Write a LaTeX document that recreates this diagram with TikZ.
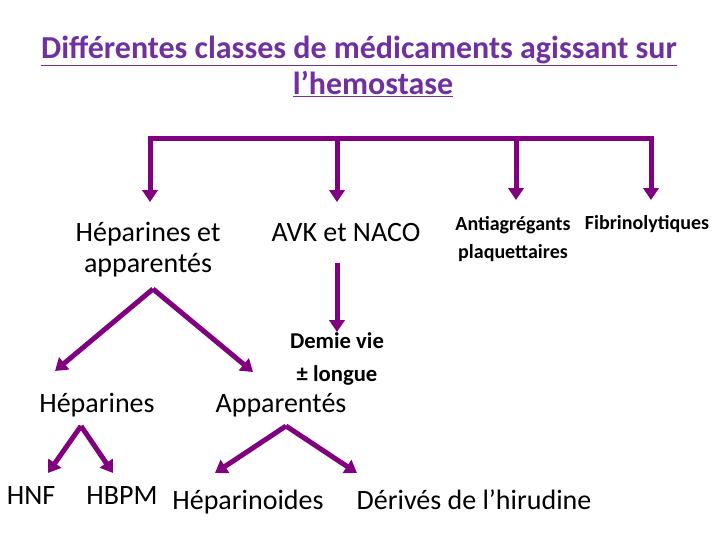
\documentclass[tikz,border=0pt]{standalone}
\usepackage{fontspec}
\setmainfont{Carlito}
\usetikzlibrary{arrows.meta}
\definecolor{titlepurple}{HTML}{7030A0}
\definecolor{arrpurple}{HTML}{800080}
\tikzset{
  lbl/.style={anchor=base, inner sep=0pt, font=\fontsize{21pt}{25pt}\selectfont},
  lblb/.style={anchor=base, inner sep=0pt, font=\fontsize{15pt}{18pt}\selectfont\bfseries},
  lblm/.style={anchor=base, inner sep=0pt, font=\fontsize{17pt}{20pt}\selectfont\bfseries},
  ttl/.style={anchor=base, inner sep=0pt, text=titlepurple, font=\fontsize{24pt}{28pt}\selectfont\bfseries},
  bar/.style={draw=arrpurple, line width=3.75pt, line cap=rect},
  arr/.style={draw=arrpurple, line width=3.75pt, -{Triangle[width=11.5pt,length=9pt]}},
}
\begin{document}
\begin{tikzpicture}[x=0.75pt,y=-0.75pt]
\useasboundingbox (0,0) rectangle (720,540);
% title
\node[ttl] (t1) at (359,58) {\underline{Différentes classes de médicaments agissant sur}};
\node[ttl] (t2) at (373,94) {\underline{l’hemostase}};
% top bar
\coordinate (b1) at (150,138);
\coordinate (b2) at (337,138);
\coordinate (b3) at (516,138);
\coordinate (b4) at (651,138);
\coordinate (d1) at (150,202);
\coordinate (d2) at (337,202);
\coordinate (d3) at (516,200);
\coordinate (d4) at (651,200);
\draw[bar] (b1) -- (b4);
\draw[arr] (b1) -- (d1);
\draw[arr] (b2) -- (d2);
\draw[arr] (b3) -- (d3);
\draw[arr] (b4) -- (d4);
% level 1
\node[lbl] (hep1) at (148,241) {Héparines et};
\node[lbl] (hep2) at (148,272) {apparentés};
\node[lbl] (avk) at (346,241) {AVK et NACO};
\node[lblb] (anti1) at (513,230) {Antiagrégants};
\node[lblb] (anti2) at (513,258) {plaquettaires};
\node[lblb] (fib) at (647,229) {Fibrinolytiques};
% AVK arrow
\coordinate (v1) at (337,263);
\coordinate (v2) at (337,332);
\draw[arr] (v1) -- (v2);
\node[lblm] (dem1) at (337,348) {Demie vie};
\node[lblm] (dem2) at (337,381) {± longue};
% heparines fork
\coordinate (ha) at (153,289);
\coordinate (hl) at (55,371);
\coordinate (hr) at (253,372);
\draw[arr] (ha) -- (hl);
\draw[arr] (ha) -- (hr);
\node[lbl] (hep) at (97,412) {Héparines};
\node[lbl] (app) at (281,412) {Apparentés};
% heparines sub fork
\coordinate (sa) at (81,426);
\coordinate (sl) at (48,473);
\coordinate (sr) at (113,473);
\draw[arr] (sa) -- (sl);
\draw[arr] (sa) -- (sr);
% apparentes sub fork
\coordinate (pa) at (286,426);
\coordinate (pl) at (215,473);
\coordinate (pr) at (357,473);
\draw[arr] (pa) -- (pl);
\draw[arr] (pa) -- (pr);
% level 3
\node[lbl] (hnf) at (31,504) {HNF};
\node[lbl] (hbpm) at (122,504) {HBPM};
\node[lbl] (hpd) at (248,509) {Héparinoides};
\node[lbl] (der) at (474,509) {Dérivés de l’hirudine};
\end{tikzpicture}
\end{document}
